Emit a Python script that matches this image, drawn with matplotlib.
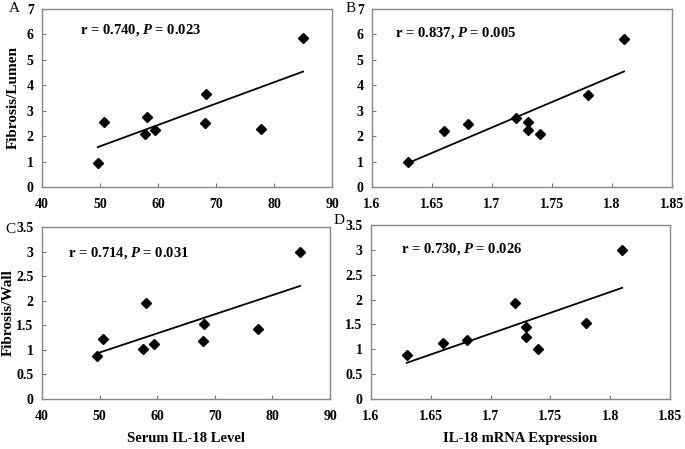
import numpy as np
import matplotlib
matplotlib.use("Agg")
import matplotlib.pyplot as plt

plt.rcParams['font.family'] = ['Liberation Serif', 'DejaVu Serif']
plt.rcParams['font.weight'] = 'bold'
plt.rcParams['axes.labelweight'] = 'bold'
plt.rcParams['mathtext.fontset'] = 'custom'
plt.rcParams['mathtext.it'] = 'Liberation Serif:italic:bold'
plt.rcParams['mathtext.rm'] = 'Liberation Serif:bold'

# ----- data -----
serum_lumen_x = [49.6, 50.7, 57.8, 58.1, 59.4, 68.2, 68.1, 77.8, 85.0]
serum_lumen_y = [0.96, 2.54, 2.09, 2.75, 2.25, 3.66, 2.51, 2.27, 5.84]

mrna_lumen_x = [1.63, 1.66, 1.68, 1.72, 1.73, 1.73, 1.74, 1.78, 1.81]
mrna_lumen_y = [0.97, 2.20, 2.48, 2.72, 2.54, 2.25, 2.07, 3.63, 5.82]

serum_wall_x = [49.5, 50.6, 57.6, 58.0, 59.4, 68.1, 68.0, 77.5, 84.8]
serum_wall_y = [0.87, 1.22, 1.01, 1.95, 1.12, 1.53, 1.19, 1.43, 3.00]

mrna_wall_x = [1.63, 1.66, 1.68, 1.72, 1.73, 1.73, 1.74, 1.78, 1.81]
mrna_wall_y = [0.88, 1.13, 1.18, 1.93, 1.45, 1.24, 1.00, 1.53, 3.00]

stats = ["r = 0.740, $\\it{P}$ = 0.023", "r = 0.837, $\\it{P}$ = 0.005",
         "r = 0.714, $\\it{P}$ = 0.031", "r = 0.730, $\\it{P}$ = 0.026"]
letters = ["A", "B", "C", "D"]

W, H = 685, 449
fig = plt.figure(figsize=(W / 100, H / 100), dpi=100)


def px_axes(left, top, right, bottom):
    return fig.add_axes([left / W, 1 - bottom / H, (right - left) / W, (bottom - top) / H])


def panel(ax, x, y, text, xlim, xticks, ylim, yticks, tx, ty):
    ax.plot(x, y, 'D', color='black', ms=5)
    k, b = np.polyfit(x, y, 1)
    xs = np.array([min(x), max(x)])
    ax.plot(xs, k * xs + b, color='black', lw=1.3)
    ax.set_xlim(*xlim)
    ax.set_ylim(*ylim)
    ax.set_xticks(xticks)
    ax.set_xticklabels(['%g' % v for v in xticks])
    ax.set_yticks(yticks)
    ax.set_yticklabels(['%g' % v for v in yticks])
    ax.tick_params(direction='in', length=3, width=0.8, color='#777777', labelsize=10)
    ax.tick_params(axis='x', pad=8)
    ax.tick_params(axis='y', pad=6)
    for s in ax.spines.values():
        s.set_color('#888888')
        s.set_linewidth(1)
    ax.text(tx, ty, text, transform=ax.transAxes, fontsize=10.5, va='center', ha='left')


axA = px_axes(42, 9, 332, 187)
axB = px_axes(372, 9, 672, 187)
axC = px_axes(42, 227, 330, 399)
axD = px_axes(371, 225, 670, 399)

serum_ticks = [40, 50, 60, 70, 80, 90]
mrna_ticks = [1.6, 1.65, 1.7, 1.75, 1.8, 1.85]
wall_ticks = [0, 0.5, 1, 1.5, 2, 2.5, 3, 3.5]

panel(axA, serum_lumen_x, serum_lumen_y, stats[0], (40, 90), serum_ticks,
      (0, 7), list(range(8)), 0.13, 0.88)
panel(axB, mrna_lumen_x, mrna_lumen_y, stats[1], (1.6, 1.85), mrna_ticks,
      (0, 7), list(range(8)), 0.077, 0.865)
panel(axC, serum_wall_x, serum_wall_y, stats[2], (40, 90), serum_ticks,
      (0, 3.5), wall_ticks, 0.09, 0.85)
panel(axD, mrna_wall_x, mrna_wall_y, stats[3], (1.6, 1.85), mrna_ticks,
      (0, 3.5), wall_ticks, 0.10, 0.86)

axA.set_ylabel("Fibrosis/Lumen", fontsize=11)
axA.yaxis.set_label_coords(-0.078, 0.5)
axC.set_ylabel("Fibrosis/Wall", fontsize=11)
axC.yaxis.set_label_coords(-0.095, 0.5)
axC.set_xlabel("Serum IL-18 Level", fontsize=10.5)
axC.xaxis.set_label_coords(0.5, -0.19)
axD.set_xlabel("IL-18 mRNA Expression", fontsize=10.5)
axD.xaxis.set_label_coords(0.5, -0.19)

letter_pos = [(14, 9), (351, 8), (10, 229), (339, 221)]
for lt, (lx, ly) in zip(letters, letter_pos):
    fig.text(lx / W, 1 - ly / H, lt, fontsize=11, fontweight='normal', ha='center', va='center')

fig.savefig("out.png", dpi=100)
